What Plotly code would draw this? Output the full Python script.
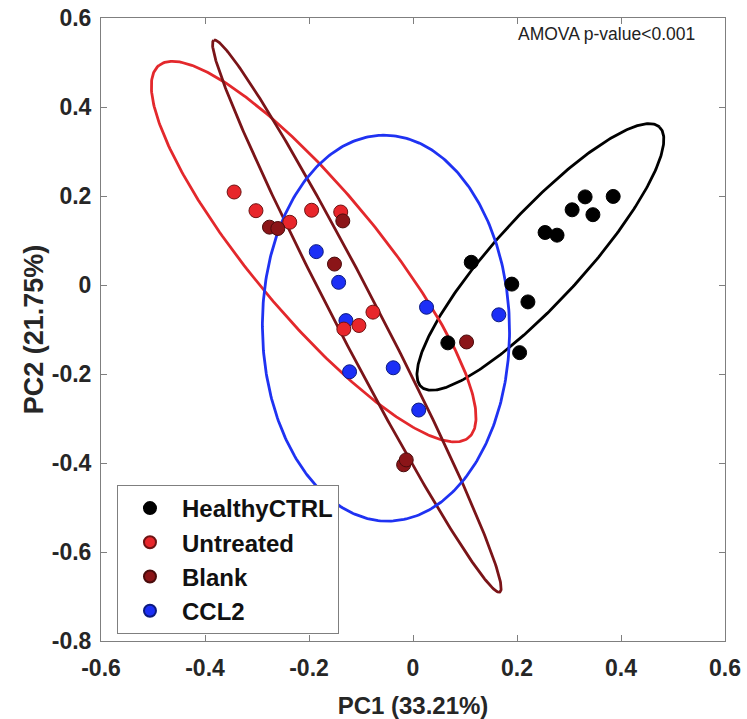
import numpy as np
import plotly.graph_objects as go

# PCA scores per group (PC1, PC2)
groups = ["HealthyCTRL", "Untreated", "Blank", "CCL2"]
colors = ["#000000", "#e8262b", "#8b1518", "#1c2ff6"]
edge_colors = ["#000000", "#6e1313", "#4a0c0c", "#0c1a80"]
line_colors = ["#000000", "#e3282c", "#7a1418", "#1f32f2"]

healthy_pc1 = [0.112, 0.190, 0.221, 0.205, 0.067, 0.254, 0.277, 0.306, 0.331, 0.346, 0.385]
healthy_pc2 = [0.051, 0.002, -0.038, -0.152, -0.130, 0.118, 0.112, 0.169, 0.198, 0.158, 0.199]

untreated_pc1 = [-0.344, -0.302, -0.237, -0.195, -0.139, -0.077, -0.104, -0.133]
untreated_pc2 = [0.209, 0.167, 0.141, 0.168, 0.164, -0.061, -0.091, -0.099]

blank_pc1 = [-0.276, -0.260, -0.135, -0.151, -0.018, -0.013, 0.103]
blank_pc2 = [0.130, 0.127, 0.144, 0.047, -0.404, -0.393, -0.128]

ccl2_pc1 = [-0.186, -0.143, -0.129, -0.122, -0.038, 0.026, 0.011, 0.165]
ccl2_pc2 = [0.075, 0.006, -0.080, -0.195, -0.186, -0.050, -0.281, -0.067]

# Confidence ellipses: centre, end of the long axis, end of the conjugate short axis
ell_center_x = [0.245, -0.191, -0.108, -0.052]
ell_center_y = [0.063, 0.075, -0.070, -0.097]
ell_major_x = [0.474, -0.489, -0.383, -0.0577]
ell_major_y = [0.355, 0.493, 0.550, 0.3366]
ell_minor_x = [0.3075, -0.0979, -0.0706, 0.1856]
ell_minor_y = [-0.004, 0.1656, -0.0474, -0.0928]

x_ticks = [-0.6, -0.4, -0.2, 0, 0.2, 0.4, 0.6]
x_ticktext = ["-0.6", "-0.4", "-0.2", "0", "0.2", "0.4", "0.6"]
y_ticks = [-0.8, -0.6, -0.4, -0.2, 0, 0.2, 0.4, 0.6]
y_ticktext = ["-0.8", "-0.6", "-0.4", "-0.2", "0", "0.2", "0.4", "0.6"]

pc1 = [healthy_pc1, untreated_pc1, blank_pc1, ccl2_pc1]
pc2 = [healthy_pc2, untreated_pc2, blank_pc2, ccl2_pc2]

FONT = "Liberation Sans, Arial, Helvetica"

fig = go.Figure()

# ellipse outlines go underneath the markers
t = np.linspace(0, 2 * np.pi, 361)
for i, name in enumerate(groups):
    cx, cy = ell_center_x[i], ell_center_y[i]
    ux, uy = ell_major_x[i] - cx, ell_major_y[i] - cy
    vx, vy = ell_minor_x[i] - cx, ell_minor_y[i] - cy
    fig.add_trace(go.Scatter(
        x=cx + ux * np.cos(t) + vx * np.sin(t),
        y=cy + uy * np.cos(t) + vy * np.sin(t),
        mode="lines",
        line=dict(color=line_colors[i], width=2.8),
        hoverinfo="skip",
        showlegend=False,
    ))

# markers: drawing order keeps Blank on top, CCL2 beneath the red groups
draw_order = [0, 3, 1, 2]
for i in draw_order:
    fig.add_trace(go.Scatter(
        x=pc1[i], y=pc2[i],
        mode="markers",
        name=groups[i],
        legendrank=i + 1,
        marker=dict(size=14, color=colors[i],
                    line=dict(color=edge_colors[i], width=1)),
    ))

fig.add_annotation(
    x=0.955, y=0.975, xref="paper", yref="paper",
    xanchor="right", yanchor="middle",
    text="AMOVA p-value<0.001", showarrow=False,
    font=dict(family=FONT, size=17.5, color="#222222"),
)

axis_common = dict(
    showgrid=False, zeroline=False,
    showline=True, mirror="allticks",
    linecolor="#7f7f7f", linewidth=1,
    ticks="inside", ticklen=6, tickcolor="#7f7f7f", tickwidth=1,
    tickfont=dict(family=FONT, size=23, color="#262626", weight="bold"),
    automargin=False,
)

fig.update_xaxes(
    range=[-0.6, 0.6], tickvals=x_ticks, ticktext=x_ticktext,
    ticklabelstandoff=6,
    title=dict(text="PC1 (33.21%)", standoff=20,
               font=dict(family=FONT, size=24, color="#262626", weight="bold")),
    **axis_common,
)
fig.update_yaxes(
    range=[-0.8, 0.6], tickvals=y_ticks, ticktext=y_ticktext,
    ticklabelstandoff=4,
    title=dict(text="PC2 (21.75%)", standoff=0,
               font=dict(family=FONT, size=27, color="#262626", weight="bold")),
    **axis_common,
)

fig.update_layout(
    width=747, height=719,
    margin=dict(l=101, r=22, t=18, b=78),
    plot_bgcolor="white", paper_bgcolor="white",
    legend=dict(
        x=0.0256, y=0.2504, xanchor="left", yanchor="top",
        bgcolor="white", bordercolor="#7f7f7f", borderwidth=1,
        font=dict(family=FONT, size=24, color="#111111", weight="bold"),
        itemsizing="constant", itemwidth=54,
        tracegroupgap=0,
    ),
)

fig.write_html("out.html")
